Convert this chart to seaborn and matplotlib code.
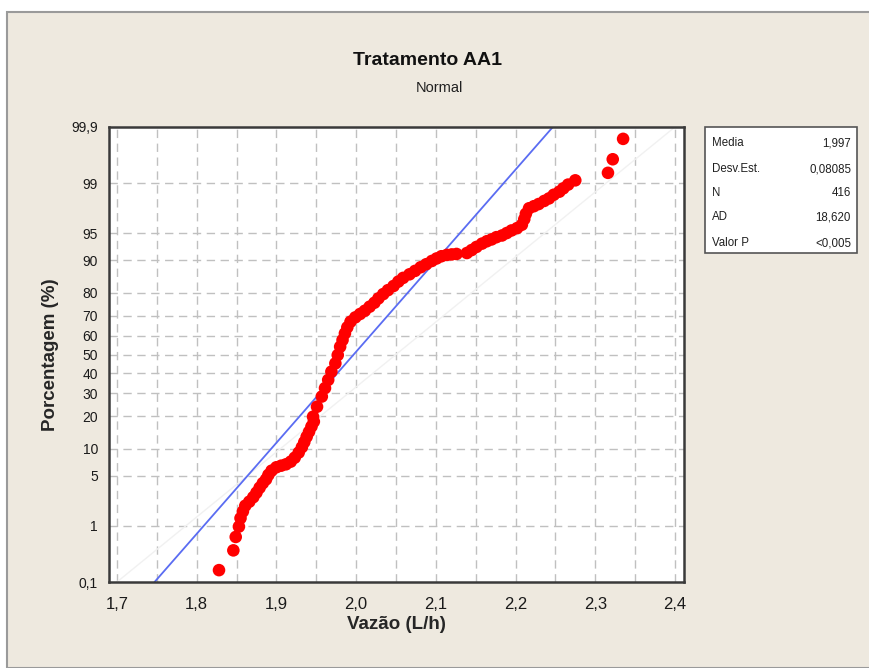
import numpy as np
import matplotlib
matplotlib.use("Agg")
import matplotlib.pyplot as plt
import seaborn as sns
from statistics import NormalDist
from matplotlib.patches import Rectangle

# pontos (vazao em L/h, porcentagem acumulada)
vazao = [
    1.828, 1.846, 1.849,
    1.853, 1.855, 1.858, 1.861, 1.866, 1.871, 1.875, 1.879, 1.883, 1.887,
    1.890, 1.894, 1.900, 1.906, 1.912, 1.918, 1.923, 1.928, 1.932, 1.935,
    1.938, 1.941, 1.944, 1.947,
    1.946, 1.951, 1.957, 1.961, 1.965, 1.969, 1.974, 1.977, 1.980, 1.983,
    1.986, 1.989, 1.993, 1.999, 2.005, 2.011, 2.017, 2.023, 2.028, 2.034,
    2.040, 2.047, 2.053, 2.059, 2.067, 2.074, 2.081, 2.088, 2.095, 2.101,
    2.107, 2.114, 2.120, 2.126,
    2.139, 2.145, 2.151, 2.158, 2.164, 2.170, 2.176, 2.183, 2.189, 2.195,
    2.202, 2.208, 2.211, 2.213, 2.217, 2.223, 2.229, 2.236, 2.242, 2.248,
    2.255, 2.260, 2.266, 2.275,
    2.316, 2.322, 2.335,
]
porcentagem = [
    0.17, 0.39, 0.66,
    0.97, 1.31, 1.65, 2.0, 2.28, 2.63, 3.03, 3.52, 4.03, 4.49,
    5.10, 5.73, 6.28, 6.55, 6.79, 7.28, 8.05, 9.14, 10.4, 11.7,
    13.2, 14.7, 16.4, 18.1,
    19.9, 23.9, 28.4, 32.4, 36.5, 40.8, 45.2, 49.7, 54.2, 57.8,
    61.3, 64.4, 67.2, 69.3, 70.9, 72.4, 74.2, 75.9, 77.7, 79.4,
    80.9, 82.4, 83.9, 85.1, 86.2, 87.2, 88.2, 89.0, 89.8, 90.4,
    90.9, 91.2, 91.3, 91.4,
    91.6, 92.2, 92.8, 93.4, 93.8, 94.1, 94.45, 94.7, 95.05, 95.4,
    95.7, 96.1, 96.7, 97.2, 97.65, 97.8, 97.95, 98.15, 98.3, 98.5,
    98.65, 98.8, 98.95, 99.1,
    99.32, 99.6, 99.83,
]

media = 1.997
desv_est = 0.08085

stats_labels = ["Media", "Desv.Est.", "N", "AD", "Valor P"]
stats_values = ["1,997", "0,08085", "416", "18,620", "<0,005"]

y_ticks = [0.1, 1, 5, 10, 20, 30, 40, 50, 60, 70, 80, 90, 95, 99, 99.9]
y_ticklabels = ["0,1", "1", "5", "10", "20", "30", "40", "50", "60", "70",
                "80", "90", "95", "99", "99,9"]
x_ticks = [1.7, 1.8, 1.9, 2.0, 2.1, 2.2, 2.3, 2.4]
x_ticklabels = ["1,7", "1,8", "1,9", "2,0", "2,1", "2,2", "2,3", "2,4"]
x_grid = [1.75, 1.85, 1.95, 2.05, 2.15, 2.25, 2.35]

BG = "#EEE9DF"

_nd = NormalDist()
_ppf = np.vectorize(lambda p: _nd.inv_cdf(p) if 0 < p < 1 else np.nan, otypes=[float])
_cdf = np.vectorize(lambda z: _nd.cdf(z), otypes=[float])


def probit(p):
    p = np.clip(np.asarray(p, dtype=float) / 100.0, 1e-9, 1 - 1e-9)
    return _ppf(p)


def probit_inv(z):
    return _cdf(np.asarray(z, dtype=float)) * 100.0


sns.set_style("white")
plt.rcParams["font.family"] = ["Liberation Sans", "DejaVu Sans"]

fig = plt.figure(figsize=(8.69, 6.68), dpi=100, facecolor="white")
fig.patches.append(Rectangle((7 / 869, 0), 1, 1 - 12 / 668, transform=fig.transFigure,
                             facecolor=BG, edgecolor="#9a9a9a", linewidth=1.5, zorder=-5))

ax = fig.add_axes([109 / 869, 1 - 582 / 668, 575 / 869, 455 / 668])
ax.set_zorder(1)
ax.set_facecolor("white")
ax.set_yscale("function", functions=(probit, probit_inv))
ax.set_xlim(1.690, 2.4114)
ax.set_ylim(0.1, 99.9)

# grade tracejada
for xv in x_ticks + x_grid:
    ax.axvline(xv, color="#c0c0c0", lw=1.0, ls=(0, (6, 4)), zorder=1)
for yv in y_ticks[1:-1]:
    ax.axhline(yv, color="#c0c0c0", lw=1.0, ls=(0, (6, 4)), zorder=1)

# linha diagonal clara
ax.plot([1.7, 2.4], [0.1, 99.9], color="#f1f1f1", lw=1.0, zorder=1)

# reta ajustada da normal
z_ext = probit(np.array([0.1, 99.9]))
ax.plot(media + desv_est * z_ext, [0.1, 99.9], color="#5a6cf2", lw=1.3, zorder=2)

sns.scatterplot(x=vazao, y=porcentagem, ax=ax, color="#ff0000", s=82,
                edgecolor="none", linewidth=0, zorder=3)

ax.set_xticks(x_ticks)
ax.set_xticklabels(x_ticklabels, fontsize=12, color="#1a1a1a")
ax.set_yticks(y_ticks)
ax.set_yticklabels(y_ticklabels, fontsize=10, color="#1a1a1a")
ax.minorticks_off()
ax.tick_params(axis="both", direction="out", length=5, width=1.2, color="#303030", pad=3)
ax.tick_params(axis="x", pad=6)

for sp in ax.spines.values():
    sp.set_color("#3a3a3a")
    sp.set_linewidth(1.8)

ax.set_xlabel("Vazão (L/h)", fontsize=13.5, fontweight="bold", labelpad=3)
ax.set_ylabel("Porcentagem (%)", fontsize=13.5, fontweight="bold", labelpad=9)

fig.text(0.492, 0.910, "Tratamento AA1", ha="center", va="center",
         fontsize=14, fontweight="bold", color="#111111")
fig.text(0.506, 0.868, "Normal", ha="center", va="center",
         fontsize=10.5, color="#202020")

# caixa de estatisticas
fig.patches.append(Rectangle((705 / 869, 1 - 253 / 668), 152 / 869, 126 / 668,
                             transform=fig.transFigure, facecolor="white",
                             edgecolor="#555555", linewidth=1.2, zorder=2))
row_y = [143, 169, 193, 217, 243]
for lab, val, py in zip(stats_labels, stats_values, row_y):
    fig.text(712 / 869, 1 - py / 668, lab, ha="left", va="center", fontsize=8.3, color="#202020")
    fig.text(851 / 869, 1 - py / 668, val, ha="right", va="center", fontsize=8.3, color="#202020")

fig.savefig("out.png", dpi=100, facecolor=fig.get_facecolor())
